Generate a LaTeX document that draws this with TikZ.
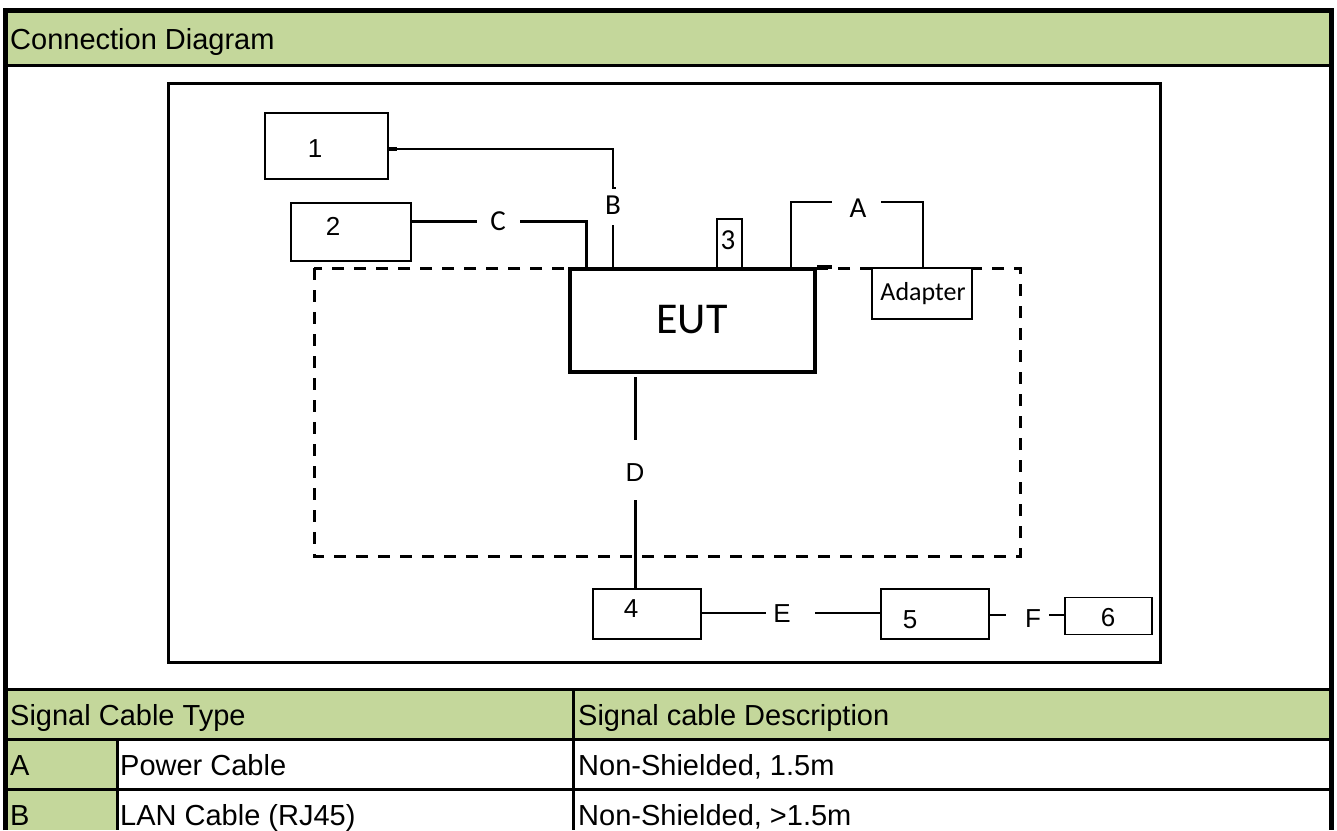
\documentclass[tikz,border=0pt]{standalone}
\usepackage{fontspec}
\setmainfont{Liberation Sans}
\newfontfamily\calfont{Carlito}
\definecolor{hdr}{HTML}{C4D79B}
\begin{document}
\begin{tikzpicture}[x=1pt,y=-1pt,
  ttext/.style={inner sep=0, anchor=base west, font=\fontsize{29}{34}\selectfont},
  lbl/.style={inner sep=0, anchor=base, font=\fontsize{26}{30}\selectfont},
  clbl/.style={inner sep=0, anchor=base, font=\calfont\fontsize{29}{33}\selectfont},
  boxs/.style={draw, line width=2.5pt, fill=white},
  wire/.style={line width=2.5pt},
  thinwire/.style={line width=1.6pt},
  grid/.style={line width=3pt},
  encl/.style={draw, line width=3pt, dash pattern=on 12pt off 10pt}]
\useasboundingbox (0,0) rectangle (1337,830);
% ---- table background
\fill[hdr] (8,13) rectangle (1329,64);
\fill[hdr] (8,690) rectangle (1329,739);
\fill[hdr] (8,740) rectangle (116,830);
% ---- table lines
\draw[grid] (5,65.5) -- (1332,65.5);
\draw[grid] (5,689.5) -- (1332,689.5);
\draw[grid] (5,739.5) -- (1332,739.5);
\draw[grid] (5,789) -- (1332,789);
\draw[grid] (117,739.5) -- (117,830);
\draw[grid] (573.5,689.5) -- (573.5,830);
\draw[line width=5pt] (5.5,830) -- (5.5,10.5) -- (1331.5,10.5) -- (1331.5,830);
% ---- table texts
\node[ttext] (title) at (10,49) {Connection Diagram};
\node[ttext] (h1) at (10,725) {Signal Cable Type};
\node[ttext] (h2) at (578,725) {Signal cable Description};
\node[ttext] (ra) at (10,775) {A};
\node[ttext] (rat) at (120,775) {Power Cable};
\node[ttext] (rad) at (578,775) {Non-Shielded, 1.5m};
\node[ttext] (rb) at (10,825) {B};
\node[ttext] (rbt) at (120,825) {LAN Cable (RJ45)};
\node[ttext] (rbd) at (578,825) {Non-Shielded, >1.5m};
% ---- diagram frame
\draw[line width=3pt] (168.5,83) rectangle (1160.5,662);
% ---- dashed enclosure
\draw[encl] (314,268) rectangle (1020,556);
% ---- boxes
\node[boxs, minimum width=123pt, minimum height=66pt, inner sep=0] (b1) at (326.5,146) {};
\node[boxs, minimum width=120pt, minimum height=58pt, inner sep=0] (b2) at (351,232) {};
\node[boxs, line width=4pt, minimum width=245pt, minimum height=103pt, inner sep=0] (eut) at (692.5,320.5) {};
\node[boxs, minimum width=25pt, minimum height=49pt, inner sep=0] (b3) at (729.5,243.5) {};
\node[boxs, minimum width=100pt, minimum height=51pt, inner sep=0] (adp) at (922,293.5) {};
\node[boxs, minimum width=108pt, minimum height=50pt, inner sep=0] (b4) at (647,614) {};
\node[boxs, minimum width=108pt, minimum height=50pt, inner sep=0] (b5) at (935,614) {};
\node[boxs, line width=1.6pt, minimum width=87pt, minimum height=37pt, inner sep=0] (b6) at (1108.5,616) {};
\draw[line width=4pt] (eut.north east) -- ++(15,0) coordinate (eutext);
% ---- box texts
\node[lbl] (t1) at (315,157) {1};
\node[lbl] (t2) at (333,235) {2};
\node[clbl] (t3) at (728,249) {3};
\node[inner sep=0, anchor=base, font=\calfont\fontsize{44}{50}\selectfont] (teut) at (692,333) {EUT};
\node[inner sep=0, anchor=base, font=\calfont\fontsize{26}{30}\selectfont] (tadp) at (923,300) {Adapter};
\node[lbl] (t4) at (631,617) {4};
\node[lbl] (t5) at (910,628) {5};
\node[lbl] (t6) at (1108,626) {6};
% ---- cable labels
\node[clbl] (lA) at (858,217) {A};
\node[clbl] (lB) at (613,214) {B};
\node[clbl] (lC) at (498,230) {C};
\node[lbl] (lD) at (635,481) {D};
\node[lbl] (lE) at (782,622) {E};
\node[lbl] (lF) at (1033,627) {F};
% ---- wire B
\coordinate (bs) at (389,149);
\draw[line width=4pt] (bs) -- ++(8,0);
\draw[thinwire] (bs) -- (613,149) -- (613,188) -- ++(3,0);
\draw[thinwire] (613,225) -- (613,269);
% ---- wire C
\draw[line width=3pt] (411,221) -- (477,221);
\draw[line width=3pt] (520,221) -- (586,221) -- (586,269);
% ---- wire A
\draw[wire] (791,269) -- (791,202) -- (832,202);
\draw[wire] (881,202) -- (923,202) -- (923,268);
% ---- wire D
\draw[line width=3pt] (635,377) -- (635,440);
\draw[line width=3pt] (635,500) -- (b4.north -| 635,0);
% ---- wire E
\draw[wire] (b4.east |- 0,613) -- (766,613);
\draw[wire] (815,613) -- (b5.west |- 0,613);
% ---- wire F
\draw[thinwire] (b5.east |- 0,615) -- (1006,615);
\draw[thinwire] (1049,615) -- (b6.west |- 0,615);
\end{tikzpicture}
\end{document}
